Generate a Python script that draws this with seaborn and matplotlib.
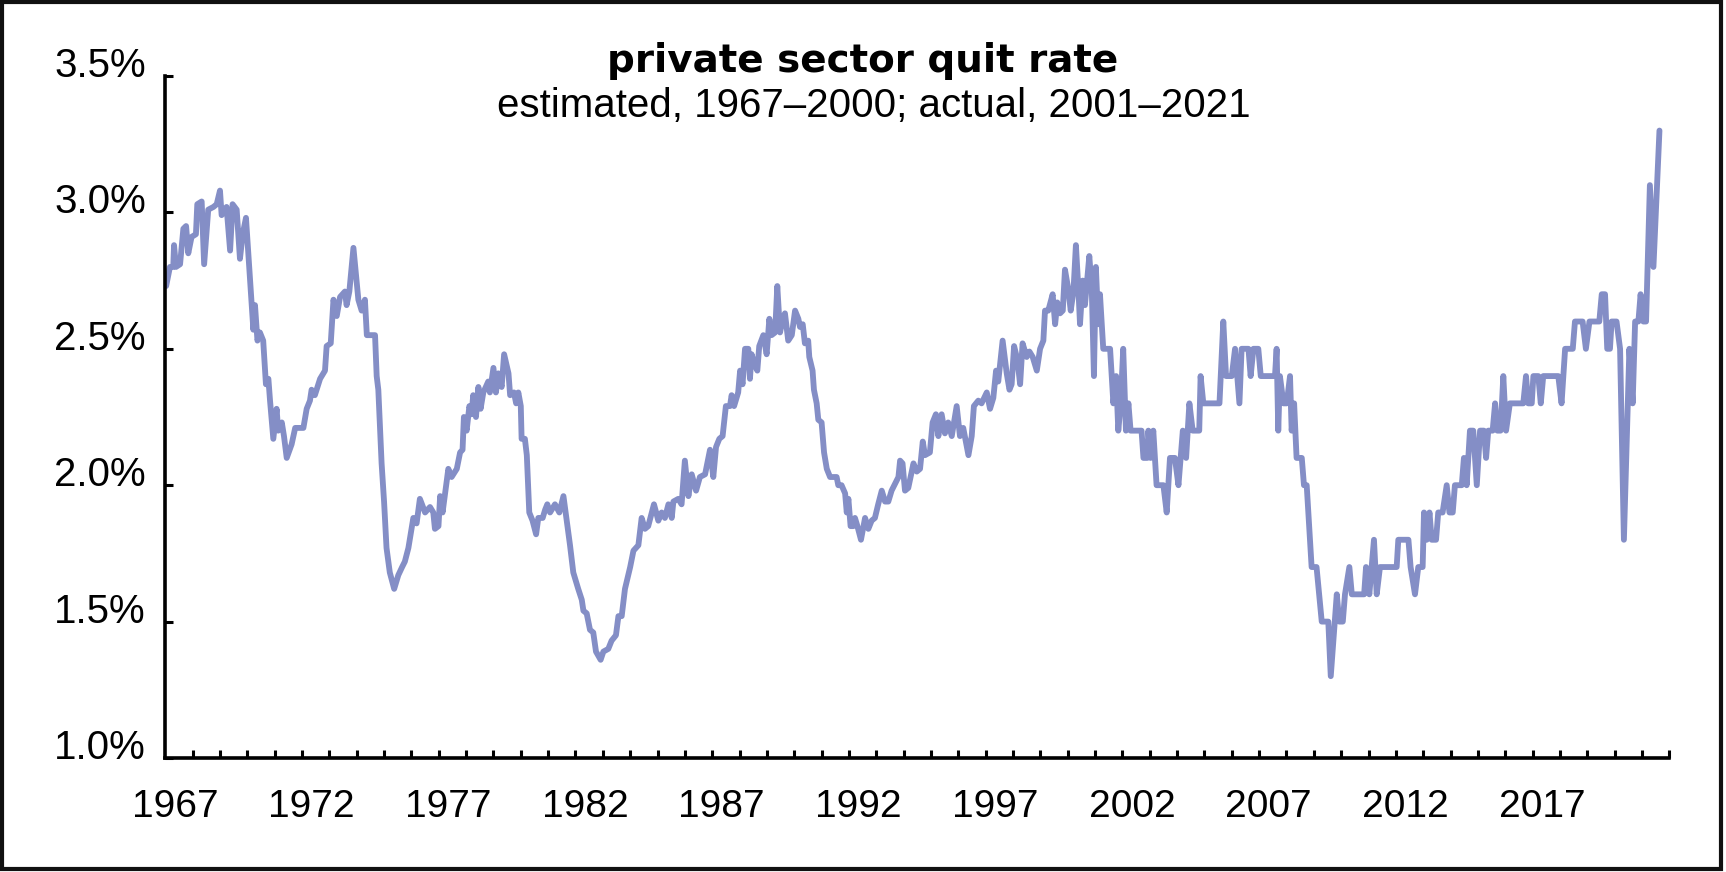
import numpy as np
import matplotlib
matplotlib.use("Agg")
import matplotlib.pyplot as plt
import matplotlib.transforms as mtransforms
from matplotlib.patches import Rectangle
import seaborn as sns

# quit rate readings (decimal year, percent)
year = [
    1967.03, 1967.17, 1967.29, 1967.32, 1967.39, 1967.54, 1967.66, 1967.76, 1967.84, 1967.96,
    1968.12, 1968.17, 1968.33, 1968.42, 1968.57, 1968.76, 1968.88, 1969.00, 1969.06, 1969.24,
    1969.37, 1969.46, 1969.61, 1969.73, 1969.83, 1969.95, 1970.16, 1970.22, 1970.28, 1970.37,
    1970.46, 1970.58, 1970.68, 1970.77, 1970.83, 1970.95, 1971.07, 1971.13, 1971.26, 1971.34,
    1971.44, 1971.62, 1971.75, 1972.05, 1972.17, 1972.29, 1972.35, 1972.47, 1972.66, 1972.84,
    1972.90, 1973.05, 1973.15, 1973.27, 1973.39, 1973.57, 1973.63, 1973.73, 1973.88, 1974.06,
    1974.18, 1974.30, 1974.37, 1974.49, 1974.67, 1974.73, 1974.79, 1974.91, 1975.00, 1975.09,
    1975.21, 1975.37, 1975.52, 1975.66, 1975.76, 1975.89, 1976.07, 1976.19, 1976.31,
    1976.50, 1976.68, 1976.80, 1976.86, 1976.99, 1977.05, 1977.14, 1977.27, 1977.35, 1977.47,
    1977.66, 1977.78, 1977.87, 1977.92, 1978.02, 1978.12, 1978.20, 1978.26, 1978.36, 1978.45,
    1978.53, 1978.63, 1978.81, 1978.87, 1979.00, 1979.09, 1979.18, 1979.30, 1979.39, 1979.55,
    1979.61, 1979.75, 1979.83, 1979.91, 1980.00, 1980.03, 1980.15, 1980.22, 1980.31, 1980.43,
    1980.56, 1980.64, 1980.80, 1980.89, 1980.97, 1981.07, 1981.25, 1981.41, 1981.56, 1981.68,
    1981.80, 1981.92, 1982.10, 1982.23, 1982.29, 1982.41, 1982.53, 1982.65, 1982.75, 1982.92,
    1983.02, 1983.20, 1983.32, 1983.48, 1983.57, 1983.69, 1983.81, 1984.00, 1984.12, 1984.30,
    1984.42, 1984.54, 1984.66, 1984.87, 1985.03, 1985.15, 1985.27, 1985.40,
    1985.52, 1985.58, 1985.76, 1985.88, 1986.00, 1986.13, 1986.25, 1986.41, 1986.55, 1986.74,
    1986.92, 1987.04, 1987.14, 1987.26, 1987.38, 1987.50, 1987.65, 1987.71, 1987.80, 1987.95,
    1988.02, 1988.11, 1988.20, 1988.32, 1988.38, 1988.44, 1988.56, 1988.65, 1988.72, 1988.87,
    1988.99, 1989.09, 1989.17, 1989.30, 1989.38, 1989.48, 1989.58, 1989.66, 1989.78, 1989.91,
    1990.03, 1990.15, 1990.21, 1990.31, 1990.39, 1990.51, 1990.55, 1990.67, 1990.72, 1990.82,
    1990.88, 1991.00, 1991.09, 1991.19, 1991.31, 1991.43, 1991.55, 1991.61, 1991.73, 1991.86,
    1991.92, 1991.98, 1992.06, 1992.16, 1992.22, 1992.31, 1992.44, 1992.59, 1992.71, 1992.83,
    1992.95, 1993.07, 1993.20, 1993.32, 1993.44, 1993.56, 1993.81, 1993.87, 1993.96, 1994.05,
    1994.17,
    1994.36, 1994.48, 1994.60, 1994.70, 1994.78, 1994.96, 1995.06, 1995.18, 1995.27, 1995.39,
    1995.51, 1995.63, 1995.76, 1995.94, 1996.06, 1996.18, 1996.37, 1996.49, 1996.57, 1996.73,
    1996.85, 1997.04, 1997.16, 1997.28, 1997.38, 1997.46, 1997.62, 1997.77, 1997.87, 1997.95,
    1998.04, 1998.16, 1998.26, 1998.35, 1998.50, 1998.60, 1998.72, 1998.87, 1998.99, 1999.11,
    1999.17, 1999.29, 1999.45, 1999.54, 1999.62, 1999.72, 1999.82, 1999.90, 2000.02, 2000.11,
    2000.21, 2000.30, 2000.39, 2000.45, 2000.55, 2000.63, 2000.79, 2000.88, 2000.96, 2001.03,
    2001.12, 2001.18, 2001.30, 2001.55, 2001.67, 2001.77, 2001.85, 2001.94, 2002.03, 2002.13,
    2002.22, 2002.30, 2002.70, 2002.77, 2002.91, 2002.95, 2003.03, 2003.13, 2003.25, 2003.50,
    2003.62, 2003.74,
    2003.92, 2004.05, 2004.21, 2004.33, 2004.45, 2004.57, 2004.81, 2004.86, 2004.96, 2005.55,
    2005.69, 2005.79, 2006.00, 2006.12, 2006.28, 2006.36, 2006.61, 2006.69, 2006.79, 2006.97,
    2007.06, 2007.58, 2007.64, 2007.70, 2007.76, 2007.89, 2008.01, 2008.13, 2008.19, 2008.28,
    2008.37, 2008.56, 2008.64, 2008.74, 2008.80, 2008.92, 2009.10, 2009.29, 2009.53, 2009.62,
    2009.84, 2009.93, 2010.06, 2010.14, 2010.30, 2010.39, 2010.84, 2010.91, 2011.03, 2011.20,
    2011.30, 2011.42, 2012.03, 2012.09, 2012.46, 2012.54, 2012.70, 2012.82,
    2012.98, 2013.03, 2013.13, 2013.23, 2013.31, 2013.47, 2013.55, 2013.71, 2013.86, 2013.96,
    2014.08, 2014.16, 2014.41, 2014.49, 2014.59, 2014.71, 2014.83, 2014.96, 2015.08, 2015.22,
    2015.30, 2015.38, 2015.54, 2015.63, 2015.71, 2015.83, 2015.93, 2016.03, 2016.17, 2016.66,
    2016.76, 2016.84, 2016.97, 2017.03, 2017.21, 2017.30, 2017.39, 2017.94, 2018.06, 2018.19,
    2018.47, 2018.55, 2018.83, 2018.95, 2019.08, 2019.44, 2019.53, 2019.65, 2019.73, 2019.83,
    2019.89, 2020.07, 2020.20, 2020.34, 2020.54, 2020.66, 2020.75, 2020.87, 2020.95, 2021.05,
    2021.15, 2021.29, 2021.42, 2021.64,
]
rate = [
    2.73, 2.80, 2.80, 2.88, 2.80, 2.81, 2.94, 2.95, 2.85, 2.91,
    2.92, 3.03, 3.04, 2.81, 3.01, 3.02, 3.03, 3.08, 2.99, 3.02,
    2.86, 3.03, 3.01, 2.83, 2.92, 2.98, 2.66, 2.57, 2.66, 2.53,
    2.56, 2.53, 2.37, 2.39, 2.31, 2.17, 2.28, 2.20, 2.23, 2.18,
    2.10, 2.15, 2.21, 2.21, 2.28, 2.31, 2.35, 2.33, 2.39, 2.42,
    2.51, 2.52, 2.68, 2.62, 2.69, 2.71, 2.66, 2.71, 2.87, 2.68,
    2.64, 2.68, 2.55, 2.55, 2.55, 2.40, 2.35, 2.08, 1.94, 1.77,
    1.68, 1.62, 1.67, 1.70, 1.72, 1.77, 1.88, 1.86, 1.95,
    1.90, 1.92, 1.90, 1.84, 1.85, 1.96, 1.90, 2.00, 2.06, 2.03,
    2.06, 2.12, 2.13, 2.25, 2.20, 2.29, 2.26, 2.33, 2.25, 2.36,
    2.28, 2.34, 2.38, 2.34, 2.43, 2.34, 2.41, 2.36, 2.48, 2.41,
    2.33, 2.34, 2.30, 2.34, 2.29, 2.17, 2.17, 2.11, 1.90, 1.87,
    1.82, 1.88, 1.88, 1.91, 1.93, 1.90, 1.93, 1.90, 1.96, 1.87,
    1.78, 1.68, 1.62, 1.58, 1.54, 1.53, 1.47, 1.46, 1.39, 1.36,
    1.39, 1.40, 1.43, 1.45, 1.52, 1.52, 1.62, 1.70, 1.76, 1.78,
    1.88, 1.84, 1.85, 1.93, 1.87, 1.90, 1.88, 1.93,
    1.88, 1.94, 1.95, 1.93, 2.09, 1.96, 2.04, 1.98, 2.03, 2.04,
    2.13, 2.03, 2.14, 2.17, 2.18, 2.29, 2.29, 2.33, 2.29, 2.34,
    2.42, 2.37, 2.50, 2.50, 2.39, 2.48, 2.44, 2.42, 2.51, 2.55,
    2.48, 2.61, 2.55, 2.56, 2.73, 2.56, 2.61, 2.63, 2.53, 2.55,
    2.64, 2.61, 2.58, 2.59, 2.52, 2.53, 2.47, 2.42, 2.35, 2.30,
    2.24, 2.23, 2.12, 2.06, 2.03, 2.03, 2.03, 2.00, 2.00, 1.97,
    1.90, 1.95, 1.85, 1.85, 1.88, 1.85, 1.80, 1.88, 1.84, 1.87,
    1.88, 1.93, 1.98, 1.94, 1.94, 1.98, 2.03, 2.09, 2.08, 1.98,
    1.99,
    2.08, 2.05, 2.06, 2.16, 2.11, 2.12, 2.23, 2.26, 2.18, 2.26,
    2.19, 2.23, 2.18, 2.29, 2.18, 2.21, 2.11, 2.18, 2.29, 2.31,
    2.30, 2.34, 2.28, 2.32, 2.42, 2.38, 2.53, 2.41, 2.35, 2.37,
    2.51, 2.46, 2.37, 2.52, 2.47, 2.49, 2.47, 2.42, 2.50, 2.53,
    2.64, 2.64, 2.70, 2.59, 2.67, 2.63, 2.64, 2.79, 2.72, 2.64,
    2.71, 2.88, 2.72, 2.59, 2.75, 2.66, 2.84, 2.72, 2.40, 2.80,
    2.59, 2.70, 2.50, 2.50, 2.30, 2.40, 2.20, 2.30, 2.50, 2.20,
    2.30, 2.20, 2.20, 2.10, 2.10, 2.20, 2.10, 2.20, 2.00, 2.00,
    1.90, 2.10,
    2.10, 2.00, 2.20, 2.10, 2.30, 2.20, 2.20, 2.40, 2.30, 2.30,
    2.60, 2.40, 2.40, 2.50, 2.30, 2.50, 2.50, 2.40, 2.50, 2.50,
    2.40, 2.40, 2.50, 2.20, 2.40, 2.30, 2.30, 2.40, 2.20, 2.30,
    2.10, 2.10, 2.00, 2.00, 1.90, 1.70, 1.70, 1.50, 1.50, 1.30,
    1.60, 1.50, 1.50, 1.60, 1.70, 1.60, 1.60, 1.70, 1.60, 1.80,
    1.60, 1.70, 1.70, 1.80, 1.80, 1.70, 1.60, 1.70,
    1.70, 1.90, 1.80, 1.90, 1.80, 1.80, 1.90, 1.90, 2.00, 1.90,
    1.90, 2.00, 2.00, 2.10, 2.00, 2.20, 2.20, 2.00, 2.20, 2.20,
    2.10, 2.20, 2.20, 2.30, 2.20, 2.20, 2.40, 2.20, 2.30, 2.30,
    2.40, 2.30, 2.30, 2.40, 2.40, 2.30, 2.40, 2.40, 2.30, 2.50,
    2.50, 2.60, 2.60, 2.50, 2.60, 2.60, 2.70, 2.70, 2.50, 2.50,
    2.60, 2.60, 2.50, 1.80, 2.50, 2.30, 2.60, 2.60, 2.70, 2.60,
    2.60, 3.10, 2.80, 3.30,
]

label_years = [1967, 1972, 1977, 1982, 1987, 1992, 1997, 2002, 2007, 2012, 2017]
y_ticks = [1.0, 1.5, 2.0, 2.5, 3.0, 3.5]

sns.set_style("ticks")
plt.rcParams['font.family'] = ['Liberation Sans', 'DejaVu Sans']
plt.rcParams['text.color'] = 'black'

W, H = 1726, 872
fig = plt.figure(figsize=(W / 100, H / 100), dpi=100)
ax = fig.add_axes([165.3 / W, 1 - 758 / H, (1669.3 - 165.3) / W, (758 - 76) / H])

sns.lineplot(x=year, y=rate, ax=ax, color='#848ec6', lw=4.2, sort=False,
             estimator=None, solid_joinstyle='round', solid_capstyle='round')

ax.set_xlim(1967, 2022)
ax.set_ylim(1.0, 3.5)
sns.despine(ax=ax)
for s in ['left', 'bottom']:
    ax.spines[s].set_linewidth(2.6)
    ax.spines[s].set_color('black')

# year ticks at each year boundary, labels in the middle of the year
ax.set_xticks(np.arange(1968, 2023), labels=[''] * 55)
ax.set_xticks([y + 0.35 for y in label_years], labels=[str(y) for y in label_years], minor=True)
ax.tick_params(axis='x', which='major', direction='in', length=6, width=2.2, color='black')
ax.tick_params(axis='x', which='minor', length=0, pad=22.5, labelsize=28, labelcolor='black')

ax.set_yticks(y_ticks, labels=['%.1f%%' % v for v in y_ticks])
ax.tick_params(axis='y', direction='in', length=6, width=2.2, pad=14, labelsize=29,
               color='black', labelcolor='black')
# labels sit a little above their ticks in the original
shift = mtransforms.ScaledTranslation(0, 14 / 100, fig.dpi_scale_trans)
for lab in ax.get_yticklabels():
    lab.set_transform(lab.get_transform() + shift)

ax.set_xlabel('')
ax.set_ylabel('')

fig.text(0.500, 1 - 71.7 / H, 'private sector quit rate', ha='center', va='baseline',
         fontsize=28, fontweight='bold', family=['DejaVu Sans'], color='black')
fig.text(0.506, 1 - 116.7 / H, 'estimated, 1967\u20132000; actual, 2001\u20132021',
         ha='center', va='baseline', fontsize=29, color='black')

fig.patches.append(Rectangle((2 / W, 3 / H), (1721 - 2) / W, (869 - 2) / H,
                             transform=fig.transFigure, fill=False, lw=3, ec='#111111'))

fig.savefig('out.png', dpi=100)
